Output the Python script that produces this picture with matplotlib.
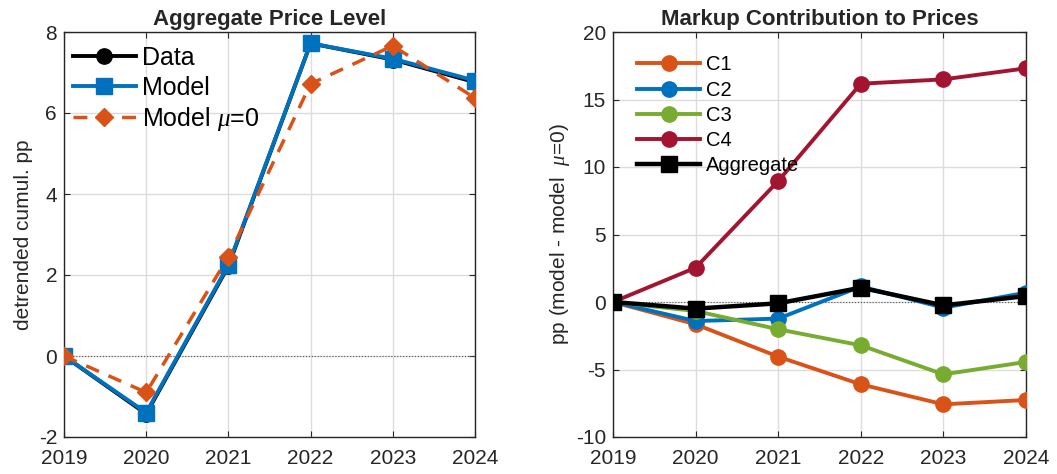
import matplotlib.pyplot as plt
import numpy as np

plt.rcParams.update({
    'font.family': ['Liberation Sans', 'DejaVu Sans'],
    'mathtext.fontset': 'custom',
    'mathtext.it': 'Liberation Serif:italic',
    'axes.unicode_minus': False,
})

# MATLAB default colour order
C_BLUE = '#0072BD'
C_ORANGE = '#D95319'
C_GREEN = '#77AC30'
C_RED = '#A2142F'

years = [2019, 2020, 2021, 2022, 2023, 2024]

# left panel: aggregate price level
price_data = [0.0, -1.43, 2.22, 7.72, 7.32, 6.76]
price_model = [0.0, -1.40, 2.25, 7.72, 7.34, 6.80]
price_model_mu0 = [0.0, -0.90, 2.45, 6.72, 7.66, 6.37]

# right panel: markup contribution by group
c1 = [0.0, -1.65, -4.05, -6.10, -7.58, -7.26]
c2 = [0.0, -1.41, -1.23, 1.15, -0.42, 0.69]
c3 = [0.0, -0.67, -2.02, -3.21, -5.36, -4.44]
c4 = [0.0, 2.54, 8.96, 16.17, 16.49, 17.31]
agg = [0.0, -0.49, -0.10, 1.06, -0.25, 0.44]

fig = plt.figure(figsize=(10.57, 4.74), dpi=100)
W, H = 1057, 474
ax1 = fig.add_axes([64 / W, 1 - 437 / H, (475 - 64) / W, (437 - 32) / H])
ax2 = fig.add_axes([613 / W, 1 - 437 / H, (1026 - 613) / W, (437 - 32) / H])


def style(ax, ylim, yticks):
    ax.set_xlim(2019, 2024)
    ax.set_ylim(*ylim)
    ax.set_xticks(years)
    ax.set_yticks(yticks)
    ax.set_yticklabels([str(t) for t in yticks])
    ax.grid(True, color='#DCDCDC', linewidth=1.0)
    ax.set_axisbelow(True)
    ax.axhline(0, color='#555555', linewidth=0.8, linestyle=':', zorder=1)
    for sp in ax.spines.values():
        sp.set_linewidth(1.0)
        sp.set_color('#262626')
    ax.tick_params(direction='in', length=4, labelsize=15, colors='#262626',
                   labelcolor='#262626', top=True, right=True, pad=5)
    ax.tick_params(axis='x', pad=9)


# ── left panel ──
ax1.plot(years, price_data, color='black', lw=2.8, marker='o', ms=11, label='Data', zorder=3)
ax1.plot(years, price_model, color=C_BLUE, lw=2.8, marker='s', ms=11, label='Model', zorder=4)
ax1.plot(years, price_model_mu0, color=C_ORANGE, lw=2.5, ls=(0, (4, 3)), marker='D', ms=9,
         label=r'Model $\mu$=0', zorder=5)
style(ax1, (-2, 8), [-2, 0, 2, 4, 6, 8])
ax1.set_title('Aggregate Price Level', fontsize=16, fontweight='bold', pad=5,
              color='#262626')
ax1.set_ylabel('detrended cumul. pp', fontsize=15, labelpad=4, color='#262626')
ax1.legend(loc='upper left', fontsize=18, frameon=False, handlelength=2.5,
           handletextpad=0.25, labelspacing=0.22, borderaxespad=0, borderpad=0,
           bbox_to_anchor=(0.022, 0.965))

# ── right panel ──
ax2.plot(years, c1, color=C_ORANGE, lw=2.8, marker='o', ms=11, label='C1', zorder=3)
ax2.plot(years, c2, color=C_BLUE, lw=2.8, marker='o', ms=11, label='C2', zorder=3)
ax2.plot(years, c3, color=C_GREEN, lw=2.8, marker='o', ms=11, label='C3', zorder=3)
ax2.plot(years, c4, color=C_RED, lw=2.8, marker='o', ms=11, label='C4', zorder=3)
ax2.plot(years, agg, color='black', lw=3.2, marker='s', ms=11.5, label='Aggregate', zorder=4)
style(ax2, (-10, 20), [-10, -5, 0, 5, 10, 15, 20])
ax2.set_title('Markup Contribution to Prices', fontsize=16, fontweight='bold', pad=5,
              color='#262626')
ax2.set_ylabel(r'pp (model - model  $\mu$=0)', fontsize=15, labelpad=3, color='#262626')
ax2.legend(loc='upper left', fontsize=14.5, frameon=False, handlelength=3.15,
           handletextpad=0.3, labelspacing=0.31, borderaxespad=0, borderpad=0,
           bbox_to_anchor=(0.058, 0.942))

fig.savefig('out.png', dpi=100, facecolor='white')
